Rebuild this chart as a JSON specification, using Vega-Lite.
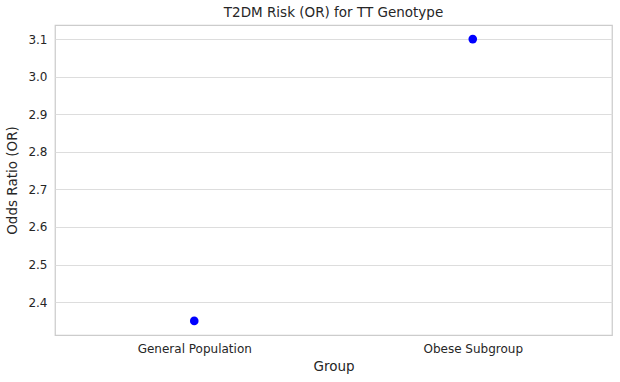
{
  "$schema": "https://vega.github.io/schema/vega-lite/v6.json",
  "width": 557,
  "height": 310,
  "autosize": {"type": "none"},
  "padding": {"left": 55, "top": 25, "right": 8, "bottom": 47},
  "background": "white",
  "title": {"text": "T2DM Risk (OR) for TT Genotype", "font": "DejaVu Sans", "fontSize": 13.5, "fontWeight": "normal", "color": "#262626", "offset": 6},
  "config": {
    "view": {"stroke": "#cccccc", "strokeWidth": 1.25},
    "axis": {"labelFont": "DejaVu Sans", "titleFont": "DejaVu Sans", "labelColor": "#262626", "titleColor": "#262626", "labelFontSize": 12, "titleFontSize": 13.5, "titleFontWeight": "normal", "domain": false, "ticks": false}
  },
  "data": {"values": [
    {"Group": "General Population", "OR": 2.35},
    {"Group": "Obese Subgroup", "OR": 3.1}
  ]},
  "mark": {"type": "point", "filled": true, "size": 75, "color": "#0000ff", "opacity": 1},
  "encoding": {
    "x": {"field": "Group", "type": "nominal", "title": "Group", "scale": {"paddingInner": 0, "paddingOuter": 0}, "axis": {"labelAngle": 0, "grid": false, "labelPadding": 8, "titlePadding": 5}},
    "y": {"field": "OR", "type": "quantitative", "title": "Odds Ratio (OR)", "scale": {"domain": [2.3125, 3.1375], "nice": false, "zero": false}, "axis": {"values": [2.4, 2.5, 2.6, 2.7, 2.8, 2.9, 3.0, 3.1], "format": ".1f", "gridColor": "#dddddd", "labelPadding": 8, "titlePadding": 8}}
  }
}
